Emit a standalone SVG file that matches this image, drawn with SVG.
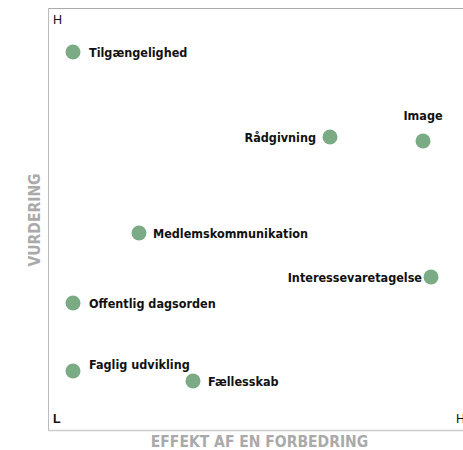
<svg xmlns="http://www.w3.org/2000/svg" width="463" height="450" viewBox="0 0 463 450">
<style>
.dot{fill:#7aab84}
.lbl{font-family:"DejaVu Sans Condensed","DejaVu Sans",sans-serif;font-weight:bold;font-size:12.5px;fill:#111}
.ax{font-family:"DejaVu Sans Condensed","DejaVu Sans",sans-serif;font-weight:bold;font-size:15.5px;fill:#aaa}
.hl{font-family:"Liberation Sans",sans-serif;font-size:12.5px;fill:#111}
</style>
<rect width="463" height="450" fill="#fff"/>
<g id="axes">
<line x1="48" y1="8.5" x2="463" y2="8.5" stroke="#aaa" stroke-width="1"/>
<line x1="48.5" y1="8" x2="48.5" y2="431" stroke="#bbb" stroke-width="1"/>
<line x1="48" y1="430.5" x2="463" y2="430.5" stroke="#ccc" stroke-width="1.5"/>
<text class="hl" x="53" y="24">H</text>
<text class="hl" x="53" y="423" font-weight="bold">L</text>
<text class="hl" x="456" y="423">H</text>
<text class="ax" x="259.5" y="447" text-anchor="middle">EFFEKT AF EN FORBEDRING</text>
<text class="ax" transform="translate(40,220) rotate(-90)" text-anchor="middle">VURDERING</text>
</g>
<g id="tilgaengelighed"><circle class="dot" cx="73" cy="52" r="7.5"/><text class="lbl" x="89" y="57">Tilgængelighed</text></g>
<g id="raadgivning"><circle class="dot" cx="330" cy="137" r="7.5"/><text class="lbl" x="316" y="142" text-anchor="end">Rådgivning</text></g>
<g id="image"><circle class="dot" cx="423" cy="141" r="7.5"/><text class="lbl" x="423" y="120" text-anchor="middle">Image</text></g>
<g id="medlemskommunikation"><circle class="dot" cx="139" cy="233" r="7.5"/><text class="lbl" x="153" y="238">Medlemskommunikation</text></g>
<g id="interessevaretagelse"><circle class="dot" cx="431" cy="277" r="7.5"/><text class="lbl" x="422" y="282" text-anchor="end">Interessevaretagelse</text></g>
<g id="offentlig"><circle class="dot" cx="73" cy="303" r="7.5"/><text class="lbl" x="89" y="308">Offentlig dagsorden</text></g>
<g id="faglig"><circle class="dot" cx="73" cy="371" r="7.5"/><text class="lbl" x="89" y="369">Faglig udvikling</text></g>
<g id="faellesskab"><circle class="dot" cx="193" cy="381" r="7.5"/><text class="lbl" x="208" y="386">Fællesskab</text></g>
</svg>
